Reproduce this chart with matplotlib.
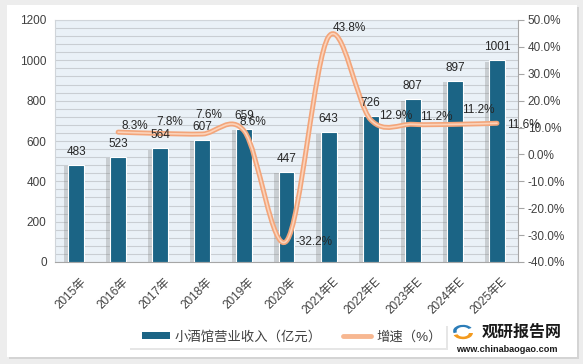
import numpy as np
import matplotlib
matplotlib.use("Agg")
import matplotlib.pyplot as plt
from matplotlib.path import Path
from matplotlib.patches import PathPatch, Rectangle, Wedge
from matplotlib.lines import Line2D
from matplotlib.patches import Patch
import matplotlib.patheffects as pe
from matplotlib.ticker import MultipleLocator, FuncFormatter

plt.rcParams['font.family'] = ['Liberation Sans', 'Noto Sans CJK SC', 'DejaVu Sans']

years = ["2015年", "2016年", "2017年", "2018年", "2019年", "2020年",
         "2021年E", "2022年E", "2023年E", "2024年E", "2025年E"]
revenue = [483, 523, 564, 607, 659, 447, 643, 726, 807, 897, 1001]
growth = [None, 8.3, 7.8, 7.6, 8.6, -32.2, 43.8, 12.9, 11.2, 11.2, 11.6]
bar_name = "小酒馆营业收入（亿元）"
line_name = "增速（%）"

BAR_C = "#1B6485"
TXT_C = "#404040"

fig = plt.figure(figsize=(5.83, 3.64), dpi=100)
fig.patch.set_facecolor("#EDEDED")
# white panel with shadow
fig.patches.append(Rectangle((9/583, 1-359/364), 570/583, 352/364, transform=fig.transFigure,
                             facecolor="#D4D4D4", edgecolor="none", zorder=0))
fig.patches.append(Rectangle((7/583, 1-357/364), 570/583, 352/364, transform=fig.transFigure,
                             facecolor="white", edgecolor="none", zorder=0))

ax = fig.add_axes([55/583, 1-262/364, 463/583, 242/364])
ax.set_zorder(2)
ax.set_facecolor("#EAF1F7")
x = np.arange(len(years))
bars = ax.bar(x, revenue, width=0.38, color=BAR_C, edgecolor="white", linewidth=0.8, zorder=3)
for b in bars:
    b.set_path_effects([pe.SimplePatchShadow(offset=(-3, -1), shadow_rgbFace="#7F7F7F", alpha=0.3), pe.Normal()])
ax.set_xlim(-0.5, len(years)-0.5)
ax.set_ylim(0, 1200)
ax.yaxis.set_major_locator(MultipleLocator(200))
ax.yaxis.set_minor_locator(MultipleLocator(40))
ax.grid(axis="y", which="both", color="#C9CED3", linewidth=0.8, zorder=0)
ax.set_axisbelow(True)
ax.tick_params(axis="y", which="both", length=0, labelsize=8.5, labelcolor=TXT_C, pad=6)
ax.tick_params(axis="x", length=0, labelsize=8.5, labelcolor=TXT_C, pad=4)
ax.set_xticks(x)
ax.set_xticklabels(years, rotation=45, ha="right", rotation_mode="anchor")
for lab in ax.get_xticklabels():
    lab.set_transform(lab.get_transform() + matplotlib.transforms.ScaledTranslation(3/72, -6/72, fig.dpi_scale_trans))
for s in ["left", "top"]:
    ax.spines[s].set_color("#D0D5DA")
    ax.spines[s].set_linewidth(0.8)
ax.spines["right"].set_visible(False)
ax.spines["bottom"].set_color("#A6A6A6")

ax2 = ax.twinx()
ax2.set_zorder(3)
ax2.set_ylim(-40, 50)
ax2.yaxis.set_major_locator(MultipleLocator(10))
ax2.yaxis.set_major_formatter(FuncFormatter(lambda v, p: f"{v:.1f}%"))
ax2.tick_params(axis="y", length=4, color="#A6A6A6", labelsize=8.5, labelcolor=TXT_C, pad=3)
for s in ["left", "top", "bottom"]:
    ax2.spines[s].set_visible(False)
ax2.spines["right"].set_color("#A6A6A6")

# smoothed line (Excel-style Catmull-Rom Bezier) through growth points
gx = np.array([xi for xi, g in zip(x, growth) if g is not None], dtype=float)
gy = np.array([g for g in growth if g is not None], dtype=float)
pts = np.column_stack([gx, gy])
verts = [pts[0]]
codes = [Path.MOVETO]
n = len(pts)
for i in range(n-1):
    p0 = pts[i-1] if i > 0 else pts[i]
    p1 = pts[i]
    p2 = pts[i+1]
    p3 = pts[i+2] if i+2 < n else pts[i+1]
    c1 = p1 + (p2 - p0)/6
    c2 = p2 - (p3 - p1)/6
    verts += [c1, c2, p2]
    codes += [Path.CURVE4]*3
path = Path(verts, codes)
ax2.add_patch(PathPatch(path, facecolor="none", edgecolor="#F3A57A", linewidth=3.6, zorder=4, capstyle="round"))
ax2.add_patch(PathPatch(path, facecolor="none", edgecolor="#FBD3BB", linewidth=1.2, zorder=5, capstyle="round"))

# bar value labels drawn on top of the line
for xi, v in zip(x, revenue):
    ax2.annotate(str(v), (xi, v), xycoords=ax.transData, xytext=(0, 5), textcoords="offset points",
                 ha="center", va="bottom", fontsize=8.5, color="#262626", zorder=6)

label_offsets_px = [None, (17, 6), (10, 11), (6, 19), (8, 9), (28, -1), (21, 9), (25, 4), (24, 7), (23, 14), (26, -2)]
for xi, g, off in zip(x, growth, label_offsets_px):
    if g is None:
        continue
    ax2.annotate(f"{g:.1f}%", (xi, g), xytext=(off[0]*0.72, off[1]*0.72), textcoords="offset points",
                 ha="center", va="center", fontsize=8.5, color="#262626", zorder=7)

# legend
fig.patches.append(Rectangle((130/583, 1-350/364), 318/583, 24/364, transform=fig.transFigure,
                             facecolor="#E6E6E6", edgecolor="none", zorder=1))
fig.patches.append(Rectangle((128/583, 1-348/364), 318/583, 24/364, transform=fig.transFigure,
                             facecolor="white", edgecolor="none", zorder=1))
handles = [Patch(facecolor=BAR_C, edgecolor="none"),
           Line2D([0], [0], color="#F7B791", lw=3.5, solid_capstyle="round")]
leg = fig.legend(handles, [bar_name, line_name], ncol=2, loc="center",
                 bbox_to_anchor=(292/583, 1-337/364), frameon=False, fontsize=9.6,
                 handlelength=2.1, handleheight=0.5, columnspacing=1.6, handletextpad=0.35,
                 labelcolor="#404040")

# logo
fig.patches.append(Wedge((463/583, 1-331/364), 0.017, 30, 200, width=0.006, transform=fig.transFigure,
                         facecolor="#2C7DB8", edgecolor="none", zorder=3))
fig.patches.append(Wedge((463/583, 1-333/364), 0.017, 200, 360, width=0.007, transform=fig.transFigure,
                         facecolor="#F39A1E", edgecolor="none", zorder=3))
fig.text(522/583, 1-332/364, "观研报告网", ha="center", va="center", fontsize=11.5,
         fontweight="bold", family=["Noto Sans CJK SC"], color="#1A1A1A")
fig.text(507/583, 1-349/364, "www.chinabaogao.com", ha="center", va="center", fontsize=6.6,
         fontweight="bold", color="#1A1A1A")

fig.savefig("out.png", dpi=100, facecolor=fig.get_facecolor())
